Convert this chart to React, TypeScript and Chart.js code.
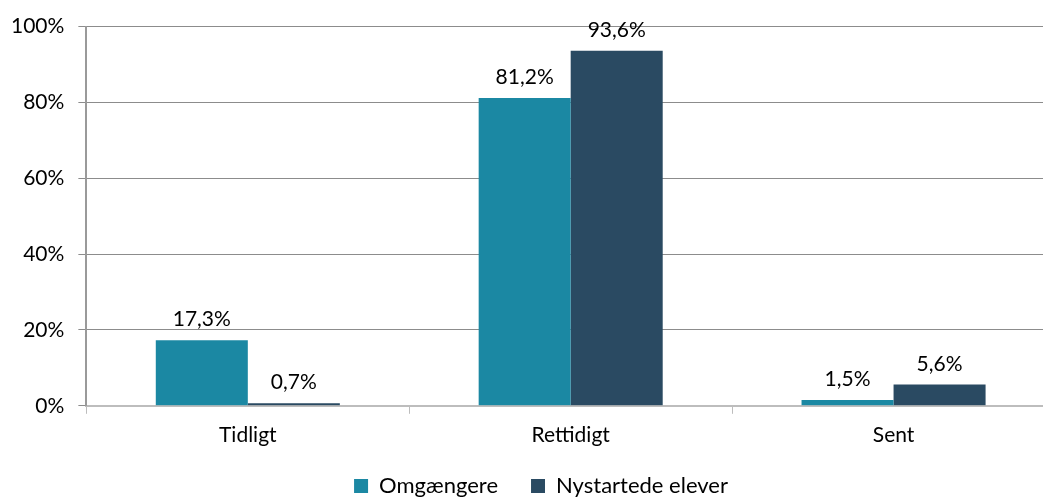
import React, { useEffect, useRef } from "react";
import { Chart, registerables } from "chart.js";

Chart.register(...registerables);

const categories = ["Tidligt", "Rettidigt", "Sent"];
const seriesNames = ["Omgængere", "Nystartede elever"];
const omgaengere = [17.3, 81.2, 1.5];
const nystartede = [0.7, 93.6, 5.6];
const yTicks = [0, 20, 40, 60, 80, 100];

const COLORS = ["#1B88A3", "#2A4A62"];
const FONT = "Lato, 'Open Sans', sans-serif";
const FS = 21;

const fmt = (v: number) => v.toFixed(1).replace(".", ",") + "%";

const dataLabels = {
  id: "dataLabels",
  afterLayout(chart: any) {
    // widen label clip areas so tick labels are not cut
    if (chart.scales.y) chart.scales.y.left = 0;
    if (chart.scales.x) chart.scales.x.bottom = chart.height;
  },
  afterDatasetsDraw(chart: any) {
    const ctx = chart.ctx;
    ctx.save();
    ctx.font = `${FS}px ${FONT}`;
    ctx.fillStyle = "#000";
    ctx.textAlign = "center";
    ctx.textBaseline = "alphabetic";
    chart.data.datasets.forEach((ds: any, i: number) => {
      const meta = chart.getDatasetMeta(i);
      meta.data.forEach((el: any, j: number) => {
        ctx.fillText(fmt(ds.data[j]), el.x, el.y - 14);
      });
    });
    ctx.restore();
  },
};

export default function App() {
  const ref = useRef<HTMLCanvasElement>(null);
  useEffect(() => {
    if (!ref.current) return;
    const chart = new Chart(ref.current, {
      type: "bar",
      data: {
        labels: categories,
        datasets: [
          { label: seriesNames[0], data: omgaengere, backgroundColor: COLORS[0] },
          { label: seriesNames[1], data: nystartede, backgroundColor: COLORS[1] },
        ],
      },
      options: {
        responsive: false,
        animation: false,
        layout: { padding: { left: 27, right: 37, top: 24, bottom: -9 } },
        datasets: { bar: { categoryPercentage: 0.57, barPercentage: 1 } },
        plugins: {
          legend: {
            position: "bottom",
            labels: {
              font: { family: FONT, size: 22 },
              color: "#000",
              boxWidth: 14,
              boxHeight: 14,
              padding: 33,
            },
          },
          tooltip: { enabled: false },
        },
        scales: {
          x: {
            offset: true,
            grid: {
              offset: true,
              drawOnChartArea: false,
              drawTicks: true,
              tickLength: 8,
              color: "#bdbdbd",
            },
            border: { color: "#bdbdbd", width: 2 },
            ticks: { font: { family: FONT, size: FS }, color: "#000", padding: 9 },
            afterFit: (axis: any) => {
              axis.height -= 15;
            },
          },
          y: {
            min: 0,
            max: 100,
            afterBuildTicks: (axis: any) => {
              axis.ticks = yTicks.map((v) => ({ value: v }));
            },
            afterFit: (axis: any) => {
              axis.width -= 30;
            },
            grid: { color: "#8c8c8c", tickLength: 8, lineWidth: 1 },
            border: { color: "#9a9a9a", width: 2 },
            ticks: {
              font: { family: FONT, size: FS },
              color: "#000",
              padding: 14,
              callback: (v: any) => v + "%",
            },
          },
        },
      },
      plugins: [dataLabels],
    });
    return () => chart.destroy();
  }, []);
  return (
    <div style={{ position: "fixed", left: 0, top: 0, width: 1043, height: 498, overflow: "hidden", background: "#fff" }}>
      <canvas ref={ref} width={1092} height={498} />
    </div>
  );
}
